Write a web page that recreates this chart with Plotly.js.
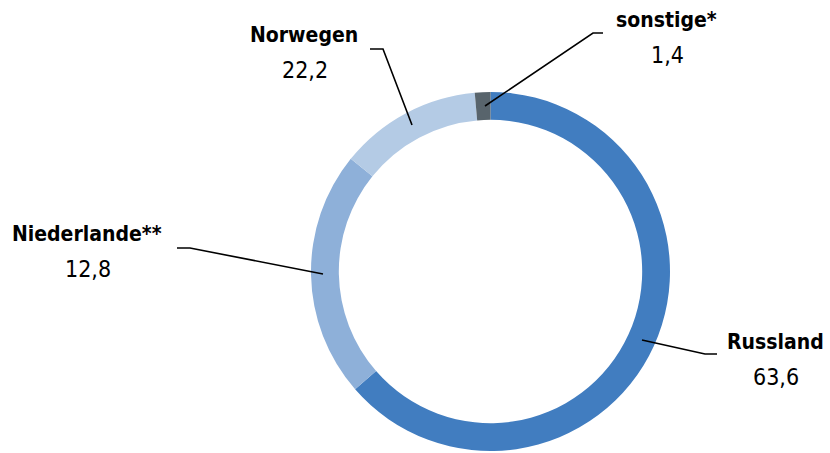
<!DOCTYPE html>
<html>
<head>
<meta charset="utf-8">
<script src="https://cdn.plot.ly/plotly-3.0.1.min.js"></script>
<style>html,body{margin:0;padding:0;background:#fff}#chart{width:830px;height:453px}</style>
</head>
<body>
<div id="chart"></div>
<script>
// Slice order as drawn clockwise from 12 o'clock
const sliceNames = ['Russland', 'Norwegen', 'Niederlande**', 'sonstige*'];
const sliceValues = [63.6, 22.2, 12.8, 1.4];
const sliceColors = ['#417DC0', '#8EB0D9', '#B4CBE5', '#58646C'];

// Labels as printed in the chart
const labelNames = ['Russland', 'Niederlande**', 'Norwegen', 'sonstige*'];
const labelValues = ['63,6', '12,8', '22,2', '1,4'];

const W = 830, H = 453;
const px = x => x / W;
const py = y => 1 - y / H;

// label anchor positions (pixels) and leader lines
const labelPos = [[775, 342], [87, 234], [304, 35], [666, 20]];
const leaders = [
  [[642, 340], [705, 354], [717, 354]],
  [[323, 274], [190, 248], [177, 248]],
  [[412, 125], [383, 49], [370, 49]],
  [[485, 106], [593, 33], [603, 33]]
];

const FONT = '"Liberation Sans Narrow", "DejaVu Sans Condensed", sans-serif';

const annotations = [];
labelNames.forEach((n, i) => {
  const [x, y] = labelPos[i];
  annotations.push({xref: 'paper', yref: 'paper', x: px(x), y: py(y), text: '<b>' + n + '</b>',
    showarrow: false, xanchor: 'center', yanchor: 'middle', font: {family: FONT, size: 21, color: '#000'}});
  annotations.push({xref: 'paper', yref: 'paper', x: px(x + 1), y: py(y + 35), text: labelValues[i],
    showarrow: false, xanchor: 'center', yanchor: 'middle', font: {family: FONT, size: 23, color: '#000'}});
});

const shapes = leaders.map(pts => ({
  type: 'path', xref: 'paper', yref: 'paper',
  path: 'M ' + pts.map(p => px(p[0]) + ',' + py(p[1])).join(' L '),
  line: {color: '#000', width: 1.6}
}));

Plotly.newPlot('chart', [{
  type: 'pie',
  labels: sliceNames,
  values: sliceValues,
  sort: false,
  direction: 'clockwise',
  rotation: 0,
  hole: 0.845,
  marker: {colors: sliceColors, line: {width: 0}},
  textinfo: 'none',
  hoverinfo: 'none',
  showlegend: false,
  domain: {x: [311 / W, 670 / W], y: [1 - 451 / H, 1 - 92 / H]}
}], {
  width: W, height: H,
  margin: {l: 0, r: 0, t: 0, b: 0},
  paper_bgcolor: '#fff',
  showlegend: false,
  annotations: annotations,
  shapes: shapes
}, {staticPlot: true});
</script>
</body>
</html>
